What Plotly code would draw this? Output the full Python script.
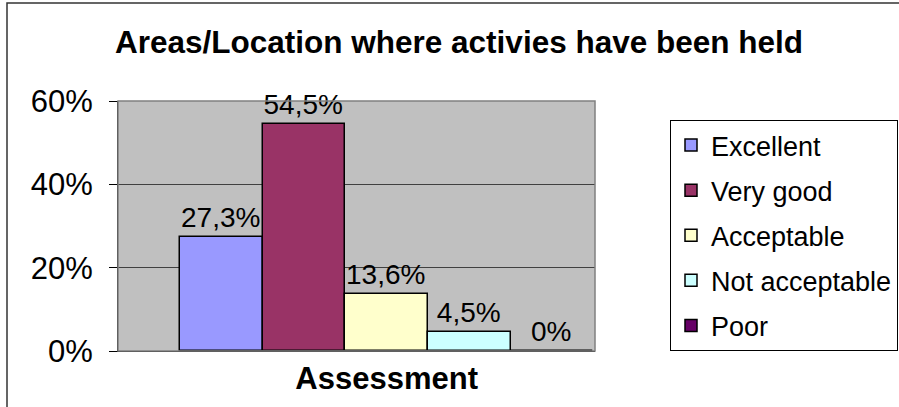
import plotly.graph_objects as go

categories = ["Excellent", "Very good", "Acceptable", "Not acceptable", "Poor"]
values = [27.3, 54.5, 13.6, 4.5, 0.0]
value_labels = ["27,3%", "54,5%", "13,6%", "4,5%", "0%"]
colors = ["#9999FF", "#993366", "#FFFFCC", "#CCFFFF", "#660066"]
y_ticks = [0, 20, 40, 60]
y_tick_labels = ["0%", "20%", "40%", "60%"]
x_label = "Assessment"
title = "Areas/Location where activies have been held"

FONT = "Liberation Sans, Arial, sans-serif"

fig = go.Figure()
for i, (name, v, lab, c) in enumerate(zip(categories, values, value_labels, colors)):
    fig.add_trace(go.Bar(
        x=[i], y=[v], width=[1.0], name=name,
        marker=dict(color=c, line=dict(color="black", width=1.5)),
        text=[lab], textposition="outside", constraintext="none",
        textfont=dict(family=FONT, size=28, color="black"),
        cliponaxis=False, legendgroup=name,
    ))

fig.update_layout(
    width=899, height=407,
    margin=dict(l=118, r=304, t=101, b=56, autoexpand=False),
    paper_bgcolor="white", plot_bgcolor="#C0C0C0",
    font=dict(family=FONT, color="black"),
    title=dict(text="<b>" + title + "</b>", font=dict(family=FONT, size=31.5, color="black"),
               x=459 / 899, xanchor="center", xref="container", y=1 - 42 / 407, yanchor="middle", yref="container"),
    showlegend=True,
    legend=dict(x=(670 - 118) / 477, xanchor="left", y=(351 - 120) / 250, yanchor="top",
                bordercolor="black", borderwidth=1, bgcolor="white",
                font=dict(family=FONT, size=27, color="black"),
                tracegroupgap=7, traceorder="grouped", itemwidth=30),
    bargap=0,
)
fig.update_xaxes(range=[-1.25, 4.52], tickvals=[2], ticktext=["<b>" + x_label + "</b>"],
                 tickfont=dict(family=FONT, size=31, color="black"),
                 showgrid=False, zeroline=False, showline=True, linecolor="black", linewidth=1,
                 ticks="", fixedrange=True)
fig.update_yaxes(range=[0, 60], tickvals=y_ticks, ticktext=y_tick_labels,
                 tickfont=dict(family=FONT, size=31, color="black"),
                 showgrid=True, gridcolor="#404040", gridwidth=1, zeroline=False,
                 showline=True, linecolor="black", linewidth=1,
                 ticks="outside", ticklen=8, tickcolor="black", ticklabelstandoff=10)

# gray plot-area border on top and right
fig.add_shape(type="rect", xref="paper", yref="paper", x0=0, x1=1, y0=0, y1=1,
              line=dict(color="#808080", width=1.5), layer="above")
# outer chart border (cropped at right and bottom)
fig.add_shape(type="rect", xref="paper", yref="paper",
              x0=(7 - 118) / 477, x1=(910 - 118) / 477, y0=(351 - 420) / 250, y1=(351 - 3) / 250,
              line=dict(color="#333333", width=1.5), layer="above")

fig.write_html("out.html", config={"displayModeBar": False},
               post_script="document.body.style.margin='0';")
